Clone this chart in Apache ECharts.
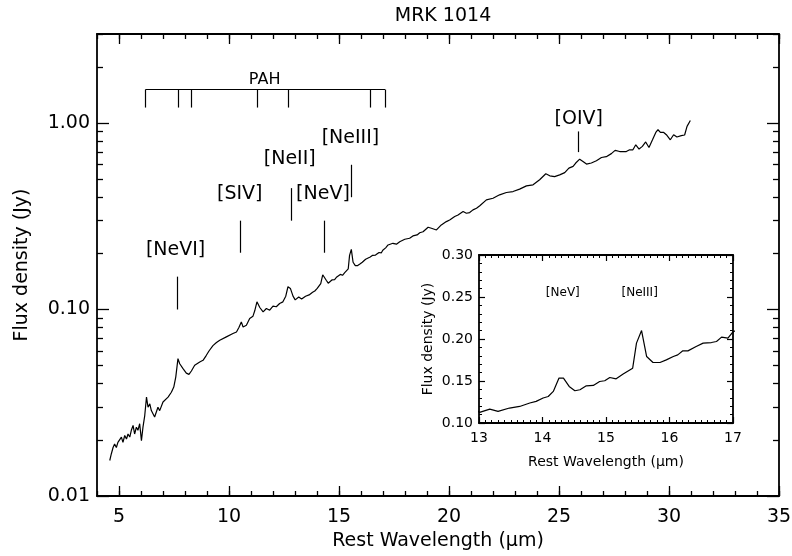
<!DOCTYPE html>
<html>
<head>
<meta charset="utf-8">
<script src="https://cdn.jsdelivr.net/npm/echarts@6/dist/echarts.min.js"></script>
<style>
  html, body { margin: 0; padding: 0; background: #fff; }
  #chart { width: 792px; height: 556px; }
</style>
</head>
<body>
<div id="chart"></div>
<script>
// Spectrum of MRK 1014
var wavelength = [
  4.58, 4.65, 4.73, 4.80, 4.88, 4.95, 5.03, 5.11, 5.18, 5.26, 5.34, 5.41, 5.49, 5.56, 5.64, 5.71, 5.79, 5.86, 5.94,
  6.02, 6.09, 6.17, 6.25, 6.32, 6.40, 6.47, 6.62, 6.77, 6.85, 7.00, 7.08, 7.23, 7.38, 7.49, 7.58, 7.68, 7.76, 7.91,
  8.06, 8.18, 8.29, 8.44, 8.52, 8.67, 8.82, 8.97, 9.09, 9.27, 9.43, 9.58, 9.88, 10.18, 10.34, 10.45, 10.56, 10.64,
  10.79, 10.94, 11.09, 11.17, 11.27, 11.40, 11.55, 11.70, 11.85, 12.00, 12.15, 12.30, 12.45, 12.58, 12.68, 12.79,
  12.91, 13.01, 13.17, 13.30, 13.48, 13.64, 13.80, 13.90, 14.01, 14.09, 14.17, 14.26, 14.33, 14.42, 14.51, 14.59,
  14.69, 14.80, 14.90, 14.98, 15.06, 15.16, 15.27, 15.42, 15.48, 15.56, 15.64, 15.74, 15.85, 15.95, 16.06, 16.13,
  16.21, 16.29, 16.42, 16.53, 16.66, 16.74, 16.82, 16.92, 16.99, 17.12, 17.23, 17.45, 17.61, 17.76, 17.99, 18.21,
  18.36, 18.55, 18.67, 18.82, 19.05, 19.20, 19.43, 19.65, 19.88, 20.03, 20.26, 20.41, 20.64, 20.79, 20.94, 21.09,
  21.25, 21.40, 21.70, 22.00, 22.30, 22.61, 22.91, 23.21, 23.52, 23.82, 24.12, 24.40, 24.58, 24.80, 25.03, 25.26,
  25.45, 25.64, 25.76, 25.94, 26.09, 26.25, 26.47, 26.70, 26.93, 27.15, 27.38, 27.55, 27.76, 28.06, 28.21, 28.36,
  28.49, 28.64, 28.79, 28.94, 29.09, 29.25, 29.40, 29.50, 29.61, 29.76, 29.88, 30.06, 30.21, 30.36, 30.56, 30.71,
  30.82, 30.97
];
var flux = [
  0.0155, 0.0168, 0.0182, 0.0190, 0.0182, 0.0194, 0.0190, 0.0207, 0.0194, 0.0211, 0.0202, 0.0215, 0.0207, 0.0225, 0.0239, 0.0215, 0.0234, 0.0225, 0.0244,
  0.0198, 0.0234, 0.0270, 0.0339, 0.0299, 0.0312, 0.0287, 0.0265, 0.0299, 0.0287, 0.0319, 0.0312, 0.0339, 0.0360, 0.0384, 0.0434, 0.0545, 0.0512, 0.0482,
  0.0456, 0.0449, 0.0468, 0.0502, 0.0512, 0.0523, 0.0534, 0.0568, 0.0599, 0.0640, 0.0665, 0.0684, 0.0713, 0.0743, 0.0758, 0.0800, 0.0858, 0.0806,
  0.0823, 0.0895, 0.0921, 0.0984, 0.1099, 0.1025, 0.0971, 0.1012, 0.0991, 0.1042, 0.1034, 0.1077, 0.1099, 0.1179, 0.1324, 0.1297,
  0.1179, 0.1126, 0.1166, 0.1138, 0.1178, 0.1197, 0.1238, 0.1257, 0.1297, 0.1316, 0.1376, 0.1535, 0.1535, 0.1435, 0.1384, 0.1396,
  0.1443, 0.1447, 0.1494, 0.1503, 0.1542, 0.1526, 0.1582, 0.1653, 0.1951, 0.2100, 0.1791, 0.1720, 0.1720, 0.1752, 0.1791, 0.1811,
  0.1859, 0.1859, 0.1910, 0.1951, 0.1958, 0.1970, 0.2022, 0.2010, 0.2077, 0.2140, 0.2218, 0.2264, 0.2240, 0.2310, 0.2380, 0.2410,
  0.2480, 0.2510, 0.2580, 0.2610, 0.2760, 0.2725, 0.2670, 0.2840, 0.2960, 0.3020, 0.3150, 0.3210, 0.3350, 0.3280, 0.3310, 0.3420,
  0.3490, 0.3600, 0.3870, 0.3950, 0.4120, 0.4240, 0.4290, 0.4420, 0.4600, 0.4660, 0.4960, 0.5340, 0.5210, 0.5160, 0.5270, 0.5420,
  0.5730, 0.5850, 0.6100, 0.6400, 0.6220, 0.6020, 0.6100, 0.6270, 0.6530, 0.6600, 0.6850, 0.7130, 0.7030, 0.7030, 0.7180, 0.7180,
  0.7640, 0.7250, 0.7490, 0.7910, 0.7390, 0.8130, 0.8900, 0.9200, 0.8900, 0.8900, 0.8650, 0.8130, 0.8650, 0.8410, 0.8550, 0.8620,
  0.9590, 1.0320
];

// Tick values
var xMajorTicks = [5, 10, 15, 20, 25, 30, 35];
var yMajorTicks = [0.01, 0.1, 1];

// Emission line markers
var lineNames = ['[NeVI]', '[SIV]', '[NeII]', '[NeV]', '[NeIII]', '[OIV]'];
var lineWavelengths = [7.65, 10.51, 12.81, 14.32, 15.56, 25.89];
var lineMarkLow = [0.100, 0.2015, 0.2994, 0.2015, 0.400, 0.698];
var lineMarkHigh = [0.150, 0.2994, 0.4474, 0.2994, 0.597, 0.901];
var lineLabelX = [7.57, 10.49, 12.76, 14.27, 15.52, 25.90];
var lineLabelY = [0.208, 0.417, 0.641, 0.417, 0.831, 1.05];

// PAH features bracket
var pahWavelengths = [6.2, 7.7, 8.3, 11.3, 12.7, 16.4, 17.1];
var pahBarTop = 1.51;
var pahBarBottom = 1.21;
var pahLabelPos = [11.62, 1.71];

// Inset labels
var insetNames = ['[NeV]', '[NeIII]'];
var insetLabelX = [14.32, 15.53];
var insetLabelY = [0.255, 0.255];

var FONT = 'DejaVu Sans';
var black = '#000';

// minor ticks
var xMinorTicks = [];
for (var i = 4; i <= 35; i++) xMinorTicks.push(i);
var yMinorTicks = [];
[0.01, 0.1, 1].forEach(function (d) {
  for (var k = 2; k <= 9; k++) {
    var v = +(k * d).toFixed(4);
    if (v <= 3) yMinorTicks.push(v);
  }
});

var spectrum = wavelength.map(function (w, i) {
  return [w, flux[i]];
});

function mainXAxis(position, ticks, len, withLabels) {
  return {
    gridIndex: 0,
    type: 'value',
    min: 4,
    max: 35,
    position: position,
    axisLine: { show: withLabels !== null, lineStyle: { color: black, width: 1.8 } },
    axisTick: { show: true, inside: true, length: len, customValues: ticks, lineStyle: { color: black, width: 1.3 } },
    axisLabel: withLabels
      ? { show: true, customValues: ticks, margin: 12, fontSize: 19, fontFamily: FONT, color: black }
      : { show: false },
    splitLine: { show: false }
  };
}

function mainYAxis(position, ticks, len, withLabels) {
  return {
    gridIndex: 0,
    type: 'log',
    logBase: 10,
    min: 0.01,
    max: 3,
    position: position,
    axisLine: { show: withLabels !== null, lineStyle: { color: black, width: 1.8 } },
    axisTick: { show: true, inside: true, length: len, customValues: ticks, lineStyle: { color: black, width: 1.3 } },
    axisLabel: withLabels
      ? {
          show: true, customValues: ticks, margin: 7, fontSize: 19, fontFamily: FONT, color: black,
          formatter: function (v) { return Number(v).toFixed(2); }
        }
      : { show: false },
    splitLine: { show: false }
  };
}

var xAxes = [
  mainXAxis('bottom', xMajorTicks, 10, true),
  mainXAxis('bottom', xMinorTicks, 5, null),
  mainXAxis('top', xMajorTicks, 10, false),
  mainXAxis('top', xMinorTicks, 5, null)
];
xAxes[0].name = 'Rest Wavelength (\u03bcm)';
xAxes[0].nameLocation = 'middle';
xAxes[0].nameGap = 33;
xAxes[0].nameTextStyle = { fontSize: 19, fontFamily: FONT, color: black };

var yAxes = [
  mainYAxis('left', yMajorTicks, 12, true),
  mainYAxis('left', yMinorTicks, 6, null),
  mainYAxis('right', yMajorTicks, 12, false),
  mainYAxis('right', yMinorTicks, 6, null)
];
yAxes[0].name = 'Flux density (Jy)';
yAxes[0].nameLocation = 'middle';
yAxes[0].nameGap = 65;
yAxes[0].nameTextStyle = { fontSize: 19, fontFamily: FONT, color: black };

// inset axes
function insetX(position, labels) {
  return {
    gridIndex: 1,
    type: 'value',
    min: 13,
    max: 17,
    interval: 1,
    position: position,
    axisLine: { show: true, lineStyle: { color: black, width: 1.8 } },
    axisTick: { show: true, inside: true, length: 6, lineStyle: { color: black, width: 1.2 } },
    minorTick: { show: true, splitNumber: 10, length: 3, lineStyle: { color: black, width: 1 } },
    axisLabel: labels
      ? { show: true, margin: 8, fontSize: 14, fontFamily: FONT, color: black }
      : { show: false },
    splitLine: { show: false },
    minorSplitLine: { show: false }
  };
}
function insetY(position, labels) {
  return {
    gridIndex: 1,
    type: 'value',
    min: 0.1,
    max: 0.3,
    interval: 0.05,
    position: position,
    axisLine: { show: true, lineStyle: { color: black, width: 1.8 } },
    axisTick: { show: true, inside: true, length: 6, lineStyle: { color: black, width: 1.2 } },
    minorTick: { show: true, splitNumber: 5, length: 3, lineStyle: { color: black, width: 1 } },
    axisLabel: labels
      ? {
          show: true, margin: 6, fontSize: 14, fontFamily: FONT, color: black,
          formatter: function (v) { return Number(v).toFixed(2); }
        }
      : { show: false },
    splitLine: { show: false },
    minorSplitLine: { show: false }
  };
}
var insetBottom = insetX('bottom', true);
insetBottom.name = 'Rest Wavelength (\u03bcm)';
insetBottom.nameLocation = 'middle';
insetBottom.nameGap = 32;
insetBottom.nameTextStyle = { fontSize: 14, fontFamily: FONT, color: black };
xAxes.push(insetBottom, insetX('top', false));

var insetLeft = insetY('left', true);
insetLeft.name = 'Flux density (Jy)';
insetLeft.nameLocation = 'middle';
insetLeft.nameGap = 44;
insetLeft.nameTextStyle = { fontSize: 14, fontFamily: FONT, color: black };
yAxes.push(insetLeft, insetY('right', false));

// marker segments
var markSegments = lineWavelengths.map(function (w, i) {
  return [{ coord: [w, lineMarkLow[i]] }, { coord: [w, lineMarkHigh[i]] }];
});
markSegments.push([
  { coord: [pahWavelengths[0], pahBarTop] },
  { coord: [pahWavelengths[pahWavelengths.length - 1], pahBarTop] }
]);
pahWavelengths.forEach(function (w) {
  markSegments.push([{ coord: [w, pahBarTop] }, { coord: [w, pahBarBottom] }]);
});

var mainLabels = lineNames.map(function (n, i) {
  return { name: n, value: [lineLabelX[i], lineLabelY[i]] };
});
var pahLabel = [{ name: 'PAH', value: pahLabelPos }];
var insetLabels = insetNames.map(function (n, i) {
  return { name: n, value: [insetLabelX[i], insetLabelY[i]] };
});

function labelSeries(xi, yi, data, size) {
  return {
    type: 'scatter',
    xAxisIndex: xi,
    yAxisIndex: yi,
    data: data,
    symbolSize: 0,
    silent: true,
    itemStyle: { color: black, opacity: 1 },
    label: {
      show: true,
      position: 'inside',
      formatter: '{b}',
      fontSize: size,
      fontFamily: FONT,
      color: black,
      opacity: 1,
      textBorderWidth: 0
    }
  };
}

var chart = echarts.init(document.getElementById('chart'));
chart.setOption({
  animation: false,
  backgroundColor: '#fff',
  title: {
    text: 'MRK 1014',
    left: 438,
    top: 2,
    textAlign: 'center',
    textStyle: { fontSize: 19, fontWeight: 'normal', fontFamily: FONT, color: black }
  },
  grid: [
    { left: 97, top: 34, width: 682, height: 462, outerBoundsMode: 'none' },
    { left: 479, top: 255, width: 254, height: 168, show: true, backgroundColor: '#fff', borderWidth: 0, outerBoundsMode: 'none' }
  ],
  xAxis: xAxes,
  yAxis: yAxes,
  series: [
    {
      type: 'line',
      xAxisIndex: 0,
      yAxisIndex: 0,
      data: spectrum,
      showSymbol: false,
      symbol: 'none',
      lineStyle: { color: black, width: 1.2 },
      markLine: {
        silent: true,
        symbol: ['none', 'none'],
        label: { show: false },
        lineStyle: { color: black, width: 1.2, type: 'solid' },
        data: markSegments
      }
    },
    {
      type: 'line',
      xAxisIndex: 4,
      yAxisIndex: 4,
      data: spectrum,
      showSymbol: false,
      symbol: 'none',
      clip: true,
      lineStyle: { color: black, width: 1.2 }
    },
    labelSeries(0, 0, mainLabels, 19),
    labelSeries(0, 0, pahLabel, 16),
    labelSeries(4, 4, insetLabels, 12)
  ]
});
</script>
</body>
</html>
